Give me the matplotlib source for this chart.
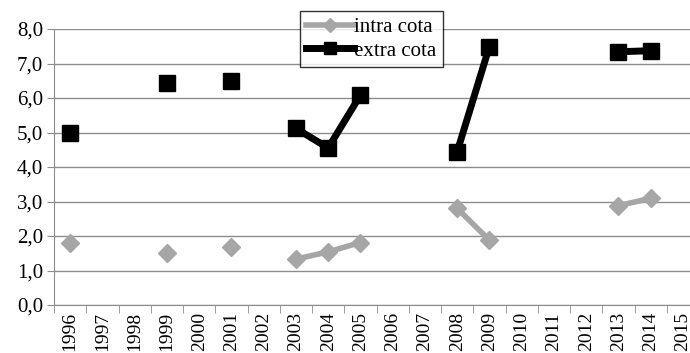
import numpy as np
import matplotlib.pyplot as plt

years = [str(y) for y in range(1996, 2016)]
nan = np.nan
intra_cota = [1.81, nan, nan, 1.50, nan, 1.69, nan, 1.33, 1.54, 1.81,
              nan, nan, 2.80, 1.88, nan, nan, nan, 2.88, 3.09, nan]
extra_cota = [4.98, nan, nan, 6.44, nan, 6.49, nan, 5.12, 4.55, 6.08,
              nan, nan, 4.44, 7.49, nan, nan, nan, 7.34, 7.37, nan]
y_ticks = [0, 1, 2, 3, 4, 5, 6, 7, 8]

plt.rcParams['font.family'] = 'serif'
plt.rcParams['font.serif'] = ['Liberation Serif', 'DejaVu Serif']

fig = plt.figure(figsize=(6.9, 3.53), dpi=100)
# the category axis runs a little past the right edge of the figure
ax = fig.add_axes([54 / 690, (353 - 305) / 353, 645 / 690, 276 / 353])

x = np.arange(len(years))

ax.plot(x, intra_cota, color='#a6a6a6', lw=4, marker='D', ms=9,
        mec='#a6a6a6', mfc='#a6a6a6', label='intra cota', zorder=3)
ax.plot(x, extra_cota, color='black', lw=5, marker='s', ms=12,
        mec='black', mfc='black', label='extra cota', zorder=4)

ax.set_xlim(-0.5, len(years) - 0.5)
ax.set_ylim(0, 8)
ax.set_yticks(y_ticks)
ax.set_yticklabels([f'{v:.1f}'.replace('.', ',') for v in y_ticks], fontsize=15)
ax.yaxis.grid(True, color='#8c8c8c', lw=1)
ax.set_axisbelow(True)

ax.set_xticks(x)
ax.set_xticklabels(years, rotation=90, fontsize=14)
ax.set_xticks(np.arange(-0.5, len(years)), minor=True)
ax.tick_params(axis='x', which='major', length=0, pad=5)
ax.tick_params(axis='x', which='minor', length=6, color='#8c8c8c', direction='out')
ax.tick_params(axis='y', length=5, color='#8c8c8c', direction='out', pad=3)

for side in ('top', 'right'):
    ax.spines[side].set_visible(False)
for side in ('left', 'bottom'):
    ax.spines[side].set_color('#8c8c8c')

leg = ax.legend(loc='upper left', bbox_to_anchor=(246 / 645, 1.065),
                frameon=True, fancybox=False, fontsize=15, markerscale=0.75,
                handlelength=2.3, handletextpad=0.0, borderpad=0.3,
                labelspacing=0.2, borderaxespad=0)
leg.get_frame().set_edgecolor('black')
leg.get_frame().set_linewidth(1)

fig.savefig('out.png', dpi=100)
